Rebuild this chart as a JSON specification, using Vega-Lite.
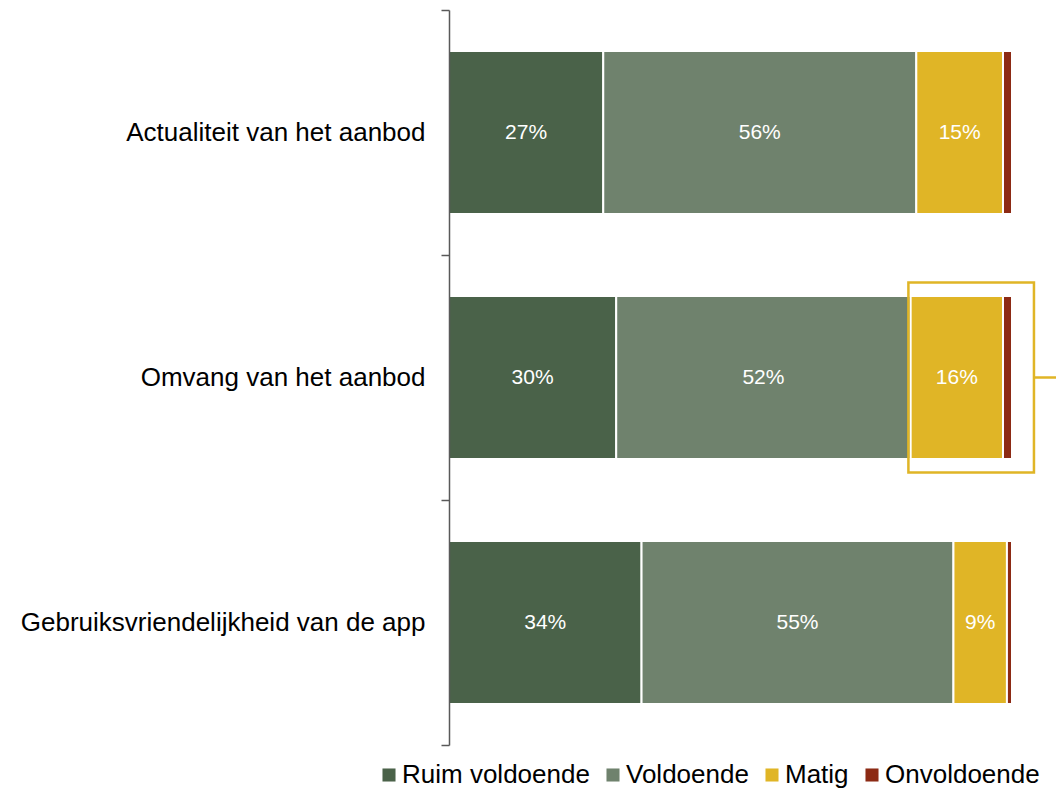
{
  "$schema": "https://vega.github.io/schema/vega-lite/v6.json",
  "width": 563,
  "height": 735,
  "autosize": {"type": "none"},
  "padding": {"left": 449, "top": 10, "right": 44, "bottom": 46},
  "background": "white",
  "config": {
    "view": {"stroke": null},
    "font": "Liberation Sans"
  },
  "datasets": {
    "bars": [
      {"item": "Actualiteit van het aanbod", "oordeel": "Ruim voldoende", "ord": 1, "pct": 27.4, "label": "27%"},
      {"item": "Actualiteit van het aanbod", "oordeel": "Voldoende", "ord": 2, "pct": 55.6, "label": "56%"},
      {"item": "Actualiteit van het aanbod", "oordeel": "Matig", "ord": 3, "pct": 15.4, "label": "15%"},
      {"item": "Actualiteit van het aanbod", "oordeel": "Onvoldoende", "ord": 4, "pct": 1.6, "label": ""},
      {"item": "Omvang van het aanbod", "oordeel": "Ruim voldoende", "ord": 1, "pct": 29.7, "label": "30%"},
      {"item": "Omvang van het aanbod", "oordeel": "Voldoende", "ord": 2, "pct": 52.3, "label": "52%"},
      {"item": "Omvang van het aanbod", "oordeel": "Matig", "ord": 3, "pct": 16.4, "label": "16%"},
      {"item": "Omvang van het aanbod", "oordeel": "Onvoldoende", "ord": 4, "pct": 1.6, "label": ""},
      {"item": "Gebruiksvriendelijkheid van de app", "oordeel": "Ruim voldoende", "ord": 1, "pct": 34.2, "label": "34%"},
      {"item": "Gebruiksvriendelijkheid van de app", "oordeel": "Voldoende", "ord": 2, "pct": 55.4, "label": "55%"},
      {"item": "Gebruiksvriendelijkheid van de app", "oordeel": "Matig", "ord": 3, "pct": 9.5, "label": "9%"},
      {"item": "Gebruiksvriendelijkheid van de app", "oordeel": "Onvoldoende", "ord": 4, "pct": 0.9, "label": ""}
    ],
    "highlight": [
      {"item": "Omvang van het aanbod", "start": 81.6, "end": 103.9, "lineEnd": 108}
    ]
  },
  "layer": [
    {
      "data": {"name": "bars"},
      "mark": {"type": "bar", "size": 163, "stroke": "white", "strokeWidth": 2},
      "encoding": {
        "y": {
          "field": "item", "type": "nominal", "sort": null,
          "scale": {"paddingInner": 0, "paddingOuter": 0},
          "axis": {
            "title": null, "zindex": 1,
            "domainColor": "#595959", "domainWidth": 1.5,
            "tickColor": "#595959", "tickWidth": 1.5, "tickSize": 8,
            "tickBand": "extent",
            "labelFontSize": 26, "labelColor": "#000000", "labelPadding": 16,
            "labelFont": "Liberation Sans", "labelLimit": 600
          }
        },
        "x": {
          "field": "pct", "type": "quantitative", "stack": "zero",
          "scale": {"domain": [0, 100], "nice": false, "zero": true},
          "axis": null
        },
        "color": {
          "field": "oordeel", "type": "nominal",
          "scale": {
            "domain": ["Ruim voldoende", "Voldoende", "Matig", "Onvoldoende"],
            "range": ["#4A6249", "#6F826D", "#E0B526", "#8C2A14"]
          },
          "legend": {
            "title": null, "orient": "none", "direction": "horizontal",
            "legendX": -73, "legendY": 752,
            "symbolType": "square", "symbolSize": 170, "symbolStrokeWidth": 0,
            "labelFontSize": 26, "labelColor": "#000000", "labelFont": "Liberation Sans",
            "labelOffset": 0, "columnPadding": 10, "labelLimit": 400
          }
        },
        "order": {"field": "ord", "type": "quantitative"}
      }
    },
    {
      "data": {"name": "bars"},
      "mark": {"type": "text", "color": "white", "fontSize": 21, "font": "Liberation Sans", "align": "center", "baseline": "middle"},
      "encoding": {
        "y": {"field": "item", "type": "nominal", "sort": null},
        "x": {"field": "pct", "type": "quantitative", "stack": "zero", "bandPosition": 0.5},
        "text": {"field": "label"},
        "order": {"field": "ord", "type": "quantitative"}
      }
    },
    {
      "data": {"name": "highlight"},
      "mark": {"type": "bar", "size": 190, "fill": null, "fillOpacity": 0, "stroke": "#E0B526", "strokeWidth": 2.5},
      "encoding": {
        "y": {"field": "item", "type": "nominal", "sort": null},
        "x": {"field": "start", "type": "quantitative"},
        "x2": {"field": "end"}
      }
    },
    {
      "data": {"name": "highlight"},
      "mark": {"type": "rule", "color": "#E0B526", "strokeWidth": 2.5},
      "encoding": {
        "y": {"field": "item", "type": "nominal", "sort": null},
        "x": {"field": "end", "type": "quantitative"},
        "x2": {"field": "lineEnd"}
      }
    }
  ]
}
